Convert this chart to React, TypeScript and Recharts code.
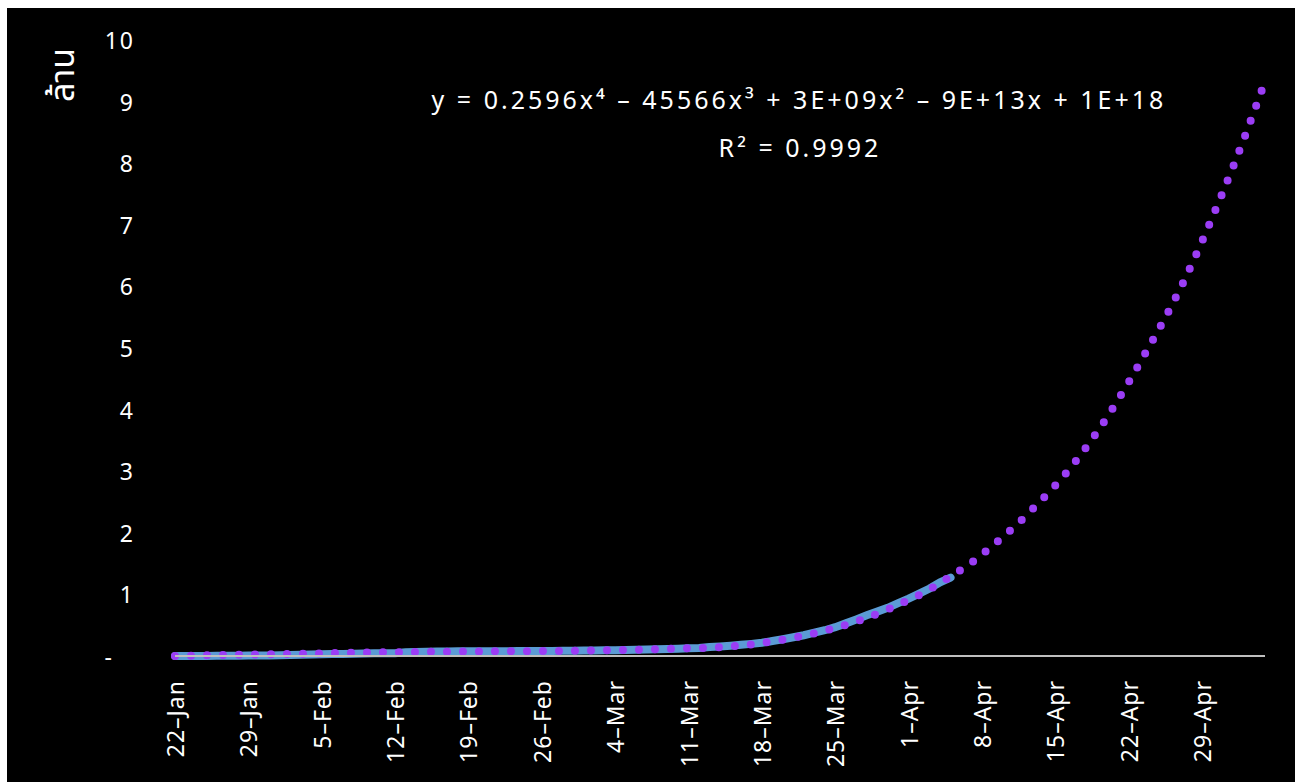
import { LineChart, Line, XAxis, YAxis } from "recharts";

// world confirmed cases, millions (22-Jan .. 5-Apr)
const cases = [
  0.0006, 0.0007, 0.0009, 0.0014, 0.0021, 0.0029, 0.0056, 0.0062, 0.0082, 0.0099,
  0.012, 0.0168, 0.0199, 0.0239, 0.0276, 0.0308, 0.0344, 0.0371, 0.0402, 0.0428,
  0.0448, 0.0452, 0.0604, 0.0669, 0.069, 0.0712, 0.0733, 0.0751, 0.0756, 0.0762,
  0.0768, 0.0786, 0.079, 0.0796, 0.0804, 0.0814, 0.0827, 0.0841, 0.086,
  0.0884, 0.0903, 0.0928, 0.0951, 0.0979, 0.1018, 0.1058, 0.1098, 0.1136, 0.1186,
  0.1259, 0.1284, 0.1452, 0.1561, 0.1675, 0.1816, 0.1971, 0.2148, 0.2426, 0.2722,
  0.3045, 0.337, 0.3782, 0.418, 0.4677, 0.5296, 0.5933, 0.6607, 0.7201, 0.7824,
  0.8575, 0.9326, 1.0132, 1.0959, 1.1974, 1.2721,
];

// polynomial trend (dotted), 22-Jan .. 5-May
const trend = [
  0.002, 0.004, 0.007, 0.01, 0.013, 0.016, 0.019, 0.022, 0.025, 0.028,
  0.031, 0.034, 0.037, 0.04, 0.043, 0.046, 0.049, 0.052, 0.055, 0.058,
  0.06, 0.062, 0.064, 0.066, 0.068, 0.07, 0.071, 0.072, 0.073, 0.074,
  0.075, 0.076, 0.077, 0.078, 0.079, 0.08, 0.081, 0.083, 0.085, 0.087,
  0.09, 0.093, 0.096, 0.099, 0.102, 0.105, 0.11, 0.115, 0.12, 0.125,
  0.13, 0.135, 0.143, 0.155, 0.17, 0.19, 0.212, 0.237, 0.265, 0.295,
  0.33, 0.368, 0.41, 0.455, 0.505, 0.56, 0.62, 0.685, 0.755, 0.83,
  0.91, 0.99, 1.08, 1.185, 1.29, 1.4, 1.515, 1.65, 1.79, 1.935,
  2.085, 2.245, 2.415, 2.59, 2.77, 2.965, 3.175, 3.4, 3.64, 3.895,
  4.165, 4.445, 4.74, 5.04, 5.345, 5.66, 5.995, 6.355, 6.735, 7.13,
  7.54, 7.96, 8.4, 8.86, 9.33,
];

const monthNames = ["Jan", "Feb", "Mar", "Apr", "May"];
const monthLengths = [31, 29, 31, 30, 31];
const yTicks = [0, 1, 2, 3, 4, 5, 6, 7, 8, 9, 10];

const equation = "y = 0.2596x⁴ – 45566x³ + 3E+09x² – 9E+13x + 1E+18";
const rSquared = "R² = 0.9992";

function buildDates(count: number) {
  const out: string[] = [];
  let m = 0;
  let d = 22;
  for (let i = 0; i < count; i++) {
    out.push(`${d}-${monthNames[m]}`);
    d++;
    if (d > monthLengths[m]) {
      d = 1;
      m++;
    }
  }
  return out;
}

const dates = buildDates(trend.length);
const data = dates.map((date, i) => ({
  date,
  cases: i < cases.length ? cases[i] : null,
  trend: trend[i],
}));

const FONT = "'Noto Sans', 'Noto Sans Thai', sans-serif";

const XTick = (props: any) => {
  const { x, payload } = props;
  return (
    <text
      transform={`translate(${x},672) rotate(-90)`}
      textAnchor="end"
      dominantBaseline="central"
      fill="#fff"
      fontSize={23}
      letterSpacing={1}
      fontFamily={FONT}
    >
      {payload.value.replace("-", "–")}
    </text>
  );
};

const YTick = (props: any) => {
  const { y, payload } = props;
  const zero = payload.value === 0;
  return (
    <text
      x={zero ? 107 : 128}
      y={y}
      textAnchor="end"
      dominantBaseline="central"
      fill="#fff"
      fontSize={23}
      letterSpacing={2}
      fontFamily={FONT}
    >
      {zero ? "-" : payload.value}
    </text>
  );
};

export default function App() {
  return (
    <div
      style={{
        position: "fixed",
        left: 7,
        top: 8,
        width: 1288,
        height: 780,
        background: "#000",
      }}
    >
      <LineChart
        width={1288}
        height={774}
        data={data}
        margin={{ top: 32, right: 30, left: 0, bottom: 0 }}
      >
        <XAxis
          dataKey="date"
          interval={6}
          height={126}
          tickLine={false}
          axisLine={{ stroke: "#bfbfbf", strokeWidth: 2 }}
          tick={<XTick />}
        />
        <YAxis
          width={168}
          domain={[0, 10]}
          ticks={yTicks}
          axisLine={false}
          tickLine={false}
          tick={<YTick />}
          label={() => (
            <text
              transform="translate(54,67) rotate(-90)"
              textAnchor="middle"
              dominantBaseline="central"
              fill="#fff"
              fontSize={34}
              fontFamily={FONT}
            >
              ล้าน
            </text>
          )}
        />
        <Line
          dataKey="cases"
          type="linear"
          stroke="#5b9bd5"
          strokeWidth={8}
          strokeLinecap="round"
          dot={false}
          activeDot={false}
          isAnimationActive={false}
        />
        <Line
          dataKey="trend"
          type="monotone"
          stroke="#9b3df5"
          strokeWidth={8}
          strokeDasharray="0 16"
          strokeLinecap="round"
          dot={false}
          activeDot={false}
          isAnimationActive={false}
        />
        <text
          x={792}
          y={101}
          textAnchor="middle"
          fill="#fff"
          fontSize={25}
          letterSpacing={3}
          fontFamily={FONT}
        >
          {equation}
        </text>
        <text
          x={793}
          y={149}
          textAnchor="middle"
          fill="#fff"
          fontSize={25}
          letterSpacing={3}
          fontFamily={FONT}
        >
          {rSquared}
        </text>
      </LineChart>
    </div>
  );
}
